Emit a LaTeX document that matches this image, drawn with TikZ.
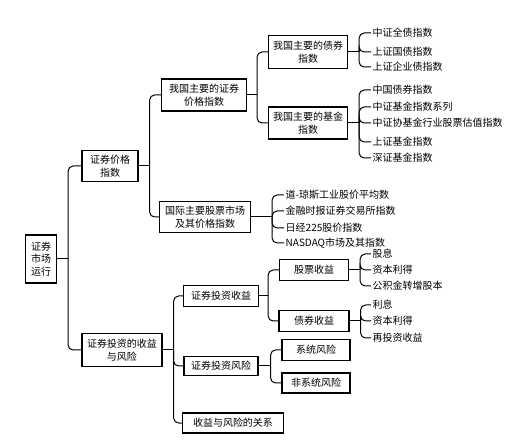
\documentclass[tikz,border=0pt]{standalone}
\usepackage{fontspec}
\setmainfont{Liberation Serif}
\newfontfamily\cjk{Noto Sans CJK SC}
\usetikzlibrary{positioning}

\tikzset{
  box/.style={draw, line width=1.2pt, align=center, inner sep=1pt,
    font=\cjk\fontsize{10}{12.5}\selectfont},
  leaf/.style={anchor=west, inner sep=1.5pt, font=\cjk\fontsize{10}{12}\selectfont},
  link/.style={line width=1pt, rounded corners=5pt}
}

\begin{document}
\begin{tikzpicture}[x=1pt, y=-1pt]
  \useasboundingbox (0,0) rectangle (515,441);

  % Root
  \node[box, minimum width=31, minimum height=48] (root) at (41,259) {证券\\市场\\运行};

  % Price index branch
  \node[box, minimum width=56, minimum height=31] (price) at (110,166) {证券价格\\指数};
  \node[box, minimum width=85, minimum height=32] (cnidx) at (204,95) {我国主要的证券\\价格指数};
  \node[box, minimum width=91, minimum height=31] (intl) at (205,217) {国际主要股票市场\\及其价格指数};
  \node[box, minimum width=79, minimum height=33] (bond) at (308,52) {我国主要的债券\\指数};
  \node[box, minimum width=79, minimum height=32] (fund) at (308,123) {我国主要的基金\\指数};

  % Bond indices
  \node[leaf] (b1) at (371,33) {中证全债指数};
  \node[leaf] (b2) at (371,52) {上证国债指数};
  \node[leaf] (b3) at (371,67) {上证企业债指数};

  % Fund indices
  \node[leaf] (f1) at (371,90) {中国债券指数};
  \node[leaf] (f2) at (371,107) {中证基金指数系列};
  \node[leaf] (f3) at (371,123) {中证协基金行业股票估值指数};
  \node[leaf] (f4) at (371,142) {上证基金指数};
  \node[leaf] (f5) at (371,158) {深证基金指数};

  % International indices
  \node[leaf] (i1) at (284,195) {道-琼斯工业股价平均数};
  \node[leaf] (i2) at (284,211) {金融时报证券交易所指数};
  \node[leaf] (i3) at (284,228) {日经225股价指数};
  \node[leaf] (i4) at (284,243) {NASDAQ市场及其指数};

  % Return and risk branch
  \node[box, minimum width=80, minimum height=33] (ret) at (122,350) {证券投资的收益\\与风险};
  \node[box, minimum width=75, minimum height=21] (inc) at (221,296) {证券投资收益};
  \node[box, minimum width=74, minimum height=19] (risk) at (221,366) {证券投资风险};
  \node[box, minimum width=101, minimum height=20] (rel) at (233,423) {收益与风险的关系};
  \node[box, minimum width=69, minimum height=21] (stk) at (314,270) {股票收益};
  \node[box, minimum width=70, minimum height=21] (bnd) at (314,321) {债券收益};
  \node[box, minimum width=68, minimum height=21] (sys) at (316,350) {系统风险};
  \node[box, minimum width=68, minimum height=20] (nsys) at (316,383) {非系统风险};

  % Stock and bond income
  \node[leaf] (s1) at (371,254) {股息};
  \node[leaf] (s2) at (371,270) {资本利得};
  \node[leaf] (s3) at (371,286) {公积金转增股本};
  \node[leaf] (d1) at (371,305) {利息};
  \node[leaf] (d2) at (371,321) {资本利得};
  \node[leaf] (d3) at (371,338) {再投资收益};

  % Junctions
  \coordinate (jroot) at ([xshift=11]root.east);
  \coordinate (jprice) at ([xshift=11]price.east);
  \coordinate (jcn) at ([xshift=10]cnidx.east);
  \coordinate (jintl) at ([xshift=21]intl.east);
  \coordinate (jbond) at ([xshift=11]bond.east);
  \coordinate (jfund) at ([xshift=11]fund.east);
  \coordinate (jret) at ([xshift=11]ret.east);
  \coordinate (jinc) at ([xshift=9]inc.east);
  \coordinate (jrisk) at ([xshift=12]risk.east);
  \coordinate (jstk) at ([xshift=11]stk.east);
  \coordinate (jbnd) at ([xshift=11]bnd.east);

  % Connectors
  \draw[link] (root.east) -- (jroot);
  \foreach \c in {price,ret} \draw[link] (jroot) |- (\c.west);
  \draw[link] (price.east) -- (jprice);
  \foreach \c in {cnidx,intl} \draw[link] (jprice) |- (\c.west);
  \draw[link] (cnidx.east) -- (jcn);
  \foreach \c in {bond,fund} \draw[link] (jcn) |- (\c.west);
  \draw[link] (bond.east) -- (jbond);
  \foreach \c in {b1,b2,b3} \draw[link] (jbond) |- (\c.west);
  \draw[link] (fund.east) -- (jfund);
  \foreach \c in {f1,f2,f3,f4,f5} \draw[link] (jfund) |- (\c.west);
  \draw[link] (intl.east) -- (jintl);
  \foreach \c in {i1,i2,i3,i4} \draw[link] (jintl) |- (\c.west);
  \draw[link] (ret.east) -- (jret);
  \foreach \c in {inc,risk,rel} \draw[link] (jret) |- (\c.west);
  \draw[link] (inc.east) -- (jinc);
  \foreach \c in {stk,bnd} \draw[link] (jinc) |- (\c.west);
  \draw[link] (risk.east) -- (jrisk);
  \foreach \c in {sys,nsys} \draw[link] (jrisk) |- (\c.west);
  \draw[link] (stk.east) -- (jstk);
  \foreach \c in {s1,s2,s3} \draw[link] (jstk) |- (\c.west);
  \draw[link] (bnd.east) -- (jbnd);
  \foreach \c in {d1,d2,d3} \draw[link] (jbnd) |- (\c.west);
\end{tikzpicture}
\end{document}
